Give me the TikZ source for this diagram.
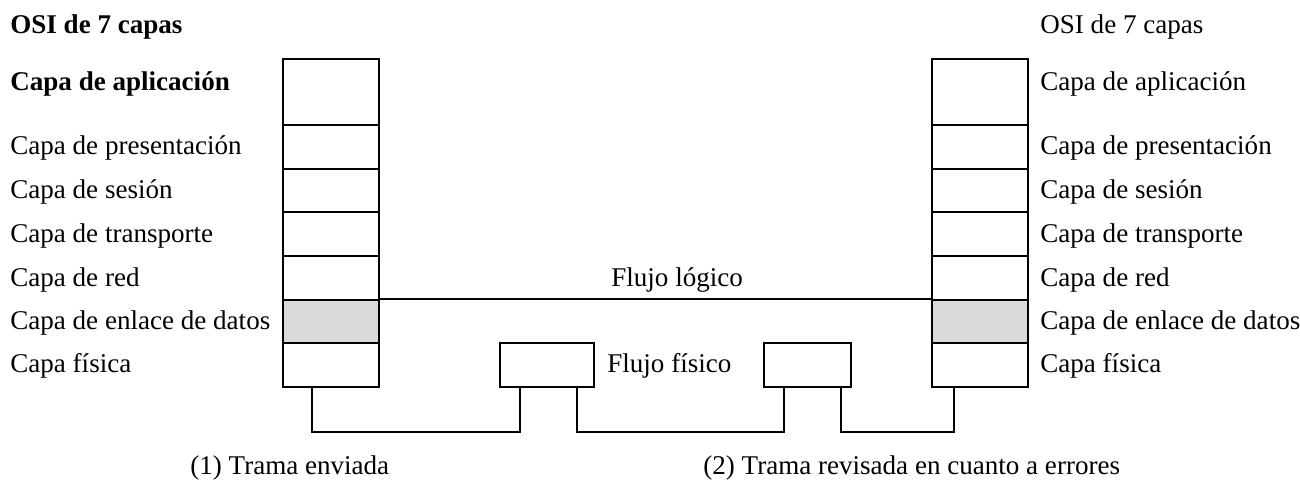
\documentclass[tikz,border=0pt]{standalone}
\usepackage{fontspec}
\setmainfont{Liberation Serif}
\usetikzlibrary{calc}
\definecolor{enlace}{RGB}{217,217,217}

\begin{document}
\begin{tikzpicture}[x=0.02cm,y=-0.02cm,
  capa/.style={draw,line width=1.2pt,minimum width=1.92cm,minimum height=0.8733cm,inner sep=0pt},
  capaalta/.style={capa,minimum height=1.32cm},
  marco/.style={draw,line width=1.2pt,minimum height=0.88cm,inner sep=0pt},
  linea/.style={line width=1.2pt},
  etq/.style={anchor=base west,inner sep=0pt,font=\fontsize{15.4}{18}\selectfont}]
\useasboundingbox (0,0) rectangle (1300,480);

% pila izquierda
\node[capaalta] (capaL1) at (331,92) {};
\node[capa] (capaL2) at (331,146.8) {};
\node[capa] (capaL3) at (331,190.5) {};
\node[capa] (capaL4) at (331,234.2) {};
\node[capa] (capaL5) at (331,277.8) {};
\node[capa,fill=enlace] (capaL6) at (331,321.5) {};
\node[capa] (capaL7) at (331,365.2) {};

% pila derecha
\node[capaalta] (capaR1) at (980,92) {};
\node[capa] (capaR2) at (980,146.8) {};
\node[capa] (capaR3) at (980,190.5) {};
\node[capa] (capaR4) at (980,234.2) {};
\node[capa] (capaR5) at (980,277.8) {};
\node[capa,fill=enlace] (capaR6) at (980,321.5) {};
\node[capa] (capaR7) at (980,365.2) {};

% equipos intermedios
\node[marco,minimum width=1.88cm] (marco1) at (547,365.2) {};
\node[marco,minimum width=1.74cm] (marco2) at (807.5,365.2) {};

% flujo logico
\draw[linea] (capaL6.north east) -- (capaR6.north west);

% flujo fisico
\draw[linea] ($(capaL7.south)+(-19,0)$) -- ++(0,44) -| ($(marco1.south)+(-27,0)$);
\draw[linea] ($(marco1.south)+(30,0)$) -- ++(0,44) -| ($(marco2.south)+(-23.5,0)$);
\draw[linea] ($(marco2.south)+(33.5,0)$) -- ++(0,44) -| ($(capaR7.south)+(-26,0)$);

% textos izquierda
\node[etq,font=\fontsize{15.4}{18}\selectfont\bfseries] (osiL) at (10,33) {OSI de 7 capas};
\node[etq,font=\fontsize{15.4}{18}\selectfont\bfseries] (apL) at (10,90) {Capa de aplicación};
\node[etq] (prL) at (10,154) {Capa de presentación};
\node[etq] (seL) at (10,198) {Capa de sesión};
\node[etq] (trL) at (10,242) {Capa de transporte};
\node[etq] (reL) at (10,286) {Capa de red};
\node[etq] (enL) at (10,329) {Capa de enlace de datos};
\node[etq] (fiL) at (10,372) {Capa física};

% textos derecha
\node[etq] (osiR) at (1040,33) {OSI de 7 capas};
\node[etq] (apR) at (1040,90) {Capa de aplicación};
\node[etq] (prR) at (1040,154) {Capa de presentación};
\node[etq] (seR) at (1040,198) {Capa de sesión};
\node[etq] (trR) at (1040,242) {Capa de transporte};
\node[etq] (reR) at (1040,286) {Capa de red};
\node[etq] (enR) at (1040,329) {Capa de enlace de datos};
\node[etq] (fiR) at (1040,372) {Capa física};

% textos centrales
\node[etq] (logico) at (611,286) {Flujo lógico};
\node[etq] (fisico) at (607,372) {Flujo físico};
\node[etq] (trama1) at (190,474) {(1) Trama enviada};
\node[etq] (trama2) at (703,474) {(2) Trama revisada en cuanto a errores};

\end{tikzpicture}
\end{document}
